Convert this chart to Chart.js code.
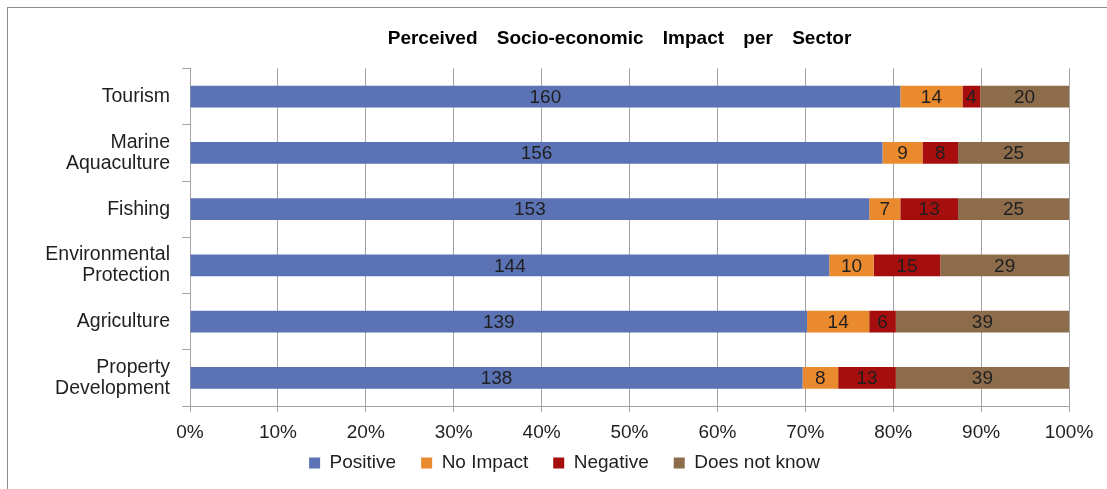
<!DOCTYPE html>
<html>
<head>
<meta charset="utf-8">
<title>Perceived Socio-economic Impact per Sector</title>
<script src="https://cdn.jsdelivr.net/npm/chart.js@4.4.1/dist/chart.umd.min.js"></script>
<style>
  html, body { margin: 0; padding: 0; background: #ffffff; overflow: hidden; }
  #frame { position: absolute; left: 7px; top: 7px; width: 1200px; height: 600px; border: 1px solid #8c8c8c; }
  #wrap { position: absolute; left: 0; top: 0; width: 1107px; height: 489px; }
</style>
</head>
<body>
<div id="frame"></div>
<div id="wrap"><canvas id="chart" width="1107" height="489"></canvas></div>
<script>
// Survey answers per sector (number of respondents)
const sectors = [
  ['Tourism'],
  ['Marine', 'Aquaculture'],
  ['Fishing'],
  ['Environmental', 'Protection'],
  ['Agriculture'],
  ['Property', 'Development']
];
const positive    = [160, 156, 153, 144, 139, 138];
const noImpact    = [14, 9, 7, 10, 14, 8];
const negative    = [4, 8, 13, 15, 6, 13];
const doesNotKnow = [20, 25, 25, 29, 39, 39];
const seriesNames = ['Positive', 'No Impact', 'Negative', 'Does not know'];
const percentTicks = [0, 10, 20, 30, 40, 50, 60, 70, 80, 90, 100];
const chartTitle = 'Perceived Socio-economic Impact per Sector';

const counts = [positive, noImpact, negative, doesNotKnow];
const totals = sectors.map((_, i) => counts.reduce((s, arr) => s + arr[i], 0));
const toShare = arr => arr.map((v, i) => v / totals[i] * 100);

const colors = ['#5b73b5', '#ea8a2f', '#a60e0e', '#8d6c4c'];
const FONT = '"Liberation Sans", Arial, sans-serif';
const TEXT = '#1f1f1f';
const GRID = '#a3a3a3';

// Let tick labels spill outside their (deliberately narrow) axis boxes
const noLabelClip = scale => { scale._computeLabelArea = () => null; };

// Count labels centred in each segment
const segmentLabels = {
  id: 'segmentLabels',
  afterDatasetsDraw(chart) {
    const ctx = chart.ctx;
    ctx.save();
    ctx.font = '19px ' + FONT;
    ctx.fillStyle = TEXT;
    ctx.textAlign = 'center';
    ctx.textBaseline = 'middle';
    chart.data.datasets.forEach((ds, di) => {
      const meta = chart.getDatasetMeta(di);
      meta.data.forEach((bar, i) => {
        const cx = (bar.x + bar.base) / 2;
        ctx.fillText(String(ds.counts[i]), cx, bar.y + 1);
      });
    });
    ctx.restore();
  }
};

// Heading above the plot
const heading = {
  id: 'heading',
  afterDraw(chart) {
    const ctx = chart.ctx;
    const area = chart.chartArea;
    ctx.save();
    ctx.font = 'bold 19px ' + FONT;
    ctx.fillStyle = '#000000';
    ctx.textAlign = 'center';
    ctx.textBaseline = 'middle';
    if ('wordSpacing' in ctx) ctx.wordSpacing = '14px';
    ctx.fillText(chartTitle, (area.left + area.right) / 2 - 10, 39);
    ctx.restore();
  }
};

new Chart(document.getElementById('chart'), {
  type: 'bar',
  data: {
    labels: sectors,
    datasets: counts.map((arr, k) => ({
      label: seriesNames[k],
      data: toShare(arr),
      counts: arr,
      backgroundColor: colors[k],
      borderWidth: 0,
      categoryPercentage: 1,
      barPercentage: 0.39
    }))
  },
  options: {
    indexAxis: 'y',
    responsive: false,
    animation: false,
    layout: { padding: { left: 60, right: 38, top: 68.5, bottom: 6.5 } },
    scales: {
      x: {
        stacked: true,
        min: 0,
        max: 100,
        afterBuildTicks(scale) { scale.ticks = percentTicks.map(v => ({ value: v })); },
        afterFit(scale) { scale.height = 22.5; noLabelClip(scale); },
        ticks: {
          font: { family: FONT, size: 19 },
          color: TEXT,
          padding: 9,
          maxRotation: 0,
          callback: v => v + '%'
        },
        grid: { color: GRID, lineWidth: 1, tickLength: 6, drawTicks: true },
        border: { color: GRID, width: 1 }
      },
      y: {
        stacked: true,
        afterFit(scale) { scale.width = 130; noLabelClip(scale); },
        ticks: {
          font: { family: FONT, size: 19.5, lineHeight: 1.08 },
          color: TEXT,
          padding: 12
        },
        grid: { drawOnChartArea: false, color: GRID, tickLength: 8, offset: true },
        border: { color: GRID, width: 1 }
      }
    },
    plugins: {
      title: { display: false },
      tooltip: { enabled: false },
      legend: {
        position: 'bottom',
        labels: {
          font: { family: FONT, size: 19 },
          color: TEXT,
          boxWidth: 11,
          boxHeight: 11,
          padding: 25
        }
      }
    }
  },
  plugins: [segmentLabels, heading]
});
</script>
</body>
</html>
